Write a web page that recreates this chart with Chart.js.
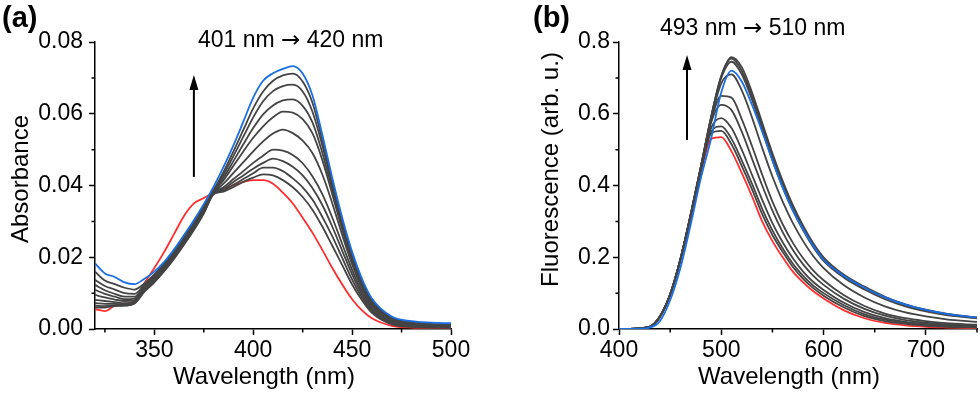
<!DOCTYPE html>
<html>
<head>
<meta charset="utf-8">
<script src="https://cdn.jsdelivr.net/npm/chart.js@4.4.0/dist/chart.umd.min.js"></script>
<style>
html, body { margin: 0; padding: 0; background: #fff; }
#wrap { position: relative; width: 980px; height: 394px; }
canvas { position: absolute; top: 0; }
</style>
</head>
<body>
<div id="wrap">
  <canvas id="chartA" width="490" height="394" style="left:0"></canvas>
  <canvas id="chartB" width="490" height="394" style="left:490px"></canvas>
</div>
<script>
// ---- panel (a): absorbance ----
const absWavelength = [320,325,330,335,340,345,350,355,360,365,370,375,380,385,390,395,400,405,410,415,420,425,430,435,440,445,450,455,460,470,480,490,500];
const absRed   = [.0055,.0050,.0065,.0070,.0080,.0128,.0170,.0215,.0265,.0315,.0350,.0365,.0380,.0390,.0400,.0410,.0415,.0415,.0405,.0380,.0350,.0310,.0268,.0220,.0170,.0124,.0083,.0052,.0030,.0009,.0004,.0003,.0003];
const absGray1 = [.0160,.0135,.0125,.0115,.0110,.0127,.0152,.0183,.0218,.0257,.0298,.0342,.0388,.0438,.0495,.0555,.0615,.0662,.0692,.0707,.0712,.0690,.0630,.0525,.0410,.0300,.0208,.0135,.0082,.0032,.0019,.0014,.0012];
const absGray2 = [.0137,.0120,.0110,.0100,.0098,.0123,.0149,.0180,.0215,.0254,.0295,.0339,.0386,.0430,.0482,.0536,.0590,.0635,.0663,.0677,.0681,.0662,.0605,.0510,.0400,.0293,.0202,.0130,.0078,.0030,.0017,.0012,.0010];
const absGray3 = [.0123,.0108,.0098,.0090,.0090,.0120,.0146,.0177,.0212,.0251,.0292,.0336,.0384,.0422,.0468,.0515,.0560,.0598,.0623,.0637,.0640,.0622,.0575,.0490,.0388,.0285,.0196,.0125,.0074,.0027,.0015,.0010,.0009];
const absGray4 = [.0109,.0098,.0090,.0083,.0085,.0117,.0143,.0174,.0209,.0248,.0289,.0333,.0382,.0415,.0455,.0495,.0533,.0565,.0590,.0606,.0603,.0585,.0545,.0470,.0375,.0277,.0190,.0120,.0070,.0025,.0013,.0009,.0008];
const absGray5 = [.0095,.0088,.0082,.0078,.0080,.0114,.0140,.0171,.0206,.0245,.0286,.0330,.0380,.0405,.0435,.0465,.0495,.0523,.0545,.0556,.0546,.0525,.0490,.0430,.0350,.0262,.0180,.0113,.0065,.0022,.0011,.0008,.0007];
const absGray6 = [.0081,.0078,.0075,.0072,.0076,.0111,.0137,.0168,.0203,.0242,.0283,.0328,.0379,.0395,.0418,.0440,.0463,.0483,.0500,.0497,.0485,.0462,.0425,.0375,.0310,.0237,.0165,.0104,.0060,.0019,.0010,.0007,.0006];
const absGray7 = [.0072,.0070,.0070,.0068,.0074,.0108,.0134,.0165,.0200,.0239,.0280,.0326,.0378,.0390,.0410,.0428,.0447,.0463,.0475,.0468,.0452,.0428,.0392,.0345,.0285,.0218,.0152,.0096,.0055,.0017,.0008,.0006,.0005];
const absGray8 = [.0065,.0064,.0066,.0066,.0072,.0106,.0132,.0163,.0198,.0237,.0278,.0324,.0377,.0386,.0402,.0418,.0434,.0450,.0450,.0440,.0420,.0395,.0360,.0312,.0258,.0198,.0138,.0088,.0050,.0015,.0007,.0005,.0004];
const absGray9 = [.0060,.0060,.0064,.0065,.0071,.0104,.0130,.0161,.0196,.0235,.0276,.0322,.0376,.0383,.0396,.0410,.0422,.0431,.0428,.0415,.0395,.0368,.0332,.0285,.0232,.0178,.0124,.0080,.0045,.0013,.0006,.0004,.0004];
const absBlue  = [.0183,.0155,.0145,.0130,.0125,.0140,.0160,.0187,.0222,.0262,.0303,.0348,.0397,.0452,.0512,.0578,.0645,.0692,.0713,.0725,.0733,.0712,.0650,.0540,.0420,.0310,.0215,.0140,.0085,.0035,.0022,.0018,.0016];

// ---- panel (b): fluorescence ----
const flWavelength = [400,420,430,440,450,460,470,480,490,500,510,520,530,540,550,560,570,580,590,600,620,640,660,680,700,720,750];
const flRed   = [0,.002,.006,.035,.095,.190,.310,.435,.530,.535,.495,.435,.370,.300,.245,.200,.160,.130,.105,.085,.052,.030,.017,.010,.006,.004,.002];
const flGray1 = [0,.002,.006,.035,.096,.192,.312,.440,.545,.552,.515,.455,.390,.320,.262,.215,.173,.140,.114,.093,.060,.036,.022,.014,.009,.006,.004];
const flGray2 = [0,.002,.006,.035,.096,.192,.313,.442,.550,.565,.530,.470,.405,.335,.275,.225,.182,.148,.121,.100,.066,.041,.026,.017,.011,.008,.005];
const flGray3 = [0,.002,.006,.035,.096,.193,.314,.445,.560,.588,.560,.500,.430,.360,.295,.242,.197,.160,.131,.109,.073,.047,.030,.020,.014,.010,.007];
const flGray4 = [0,.002,.006,.035,.097,.194,.316,.448,.575,.625,.610,.550,.475,.400,.330,.270,.220,.180,.148,.123,.084,.056,.037,.025,.018,.013,.009];
const flGray5 = [0,.002,.006,.035,.097,.195,.317,.450,.580,.650,.645,.585,.510,.430,.355,.292,.240,.197,.163,.136,.094,.064,.043,.030,.022,.016,.012];
const flGray6 = [0,.002,.006,.034,.096,.194,.317,.450,.585,.685,.710,.665,.590,.505,.425,.355,.295,.245,.203,.170,.122,.088,.063,.046,.035,.027,.020];
const flGray7 = [0,.002,.006,.034,.096,.194,.318,.452,.590,.700,.745,.710,.640,.555,.470,.395,.330,.275,.228,.190,.143,.110,.083,.063,.049,.039,.030];
const flGray8 = [0,.002,.006,.034,.096,.194,.318,.452,.590,.705,.754,.720,.650,.565,.480,.405,.338,.282,.234,.195,.148,.115,.088,.067,.052,.041,.031];
const flGray9 = [0,.002,.006,.034,.096,.194,.318,.452,.590,.705,.758,.730,.660,.575,.490,.413,.345,.288,.239,.200,.151,.118,.090,.069,.054,.043,.032];
const flBlue  = [0,.001,.004,.022,.080,.170,.290,.420,.530,.660,.720,.690,.625,.550,.470,.395,.330,.278,.232,.193,.148,.115,.088,.068,.053,.042,.032];

const RED = '#ff2d2d', BLUE = '#1a6fe4', GRAY = '#444444';
const FONT = "'Liberation Sans', Arial, sans-serif";
const ARROW_FONT = "'DejaVu Sans', sans-serif";

function pts(xs, ys) {
  return xs.map((x, i) => ({ x: x, y: ys[i] }));
}
function line(xs, ys, color) {
  return {
    data: pts(xs, ys), borderColor: color, borderWidth: 1.8,
    pointRadius: 0, fill: false, cubicInterpolationMode: 'monotone'
  };
}

// minor ticks, arrow and free text
const extras = {
  id: 'extras',
  afterDraw(chart, args, opts) {
    const ctx = chart.ctx;
    const xs = chart.scales.x, ys = chart.scales.y;
    ctx.save();
    ctx.strokeStyle = '#000';
    ctx.lineWidth = 1.5;
    ctx.beginPath();
    opts.minorX.forEach(v => {
      const p = xs.getPixelForValue(v);
      ctx.moveTo(p, xs.top); ctx.lineTo(p, xs.top + 3.5);
    });
    opts.minorY.forEach(v => {
      const p = ys.getPixelForValue(v);
      ctx.moveTo(ys.right, p); ctx.lineTo(ys.right - 3.5, p);
    });
    ctx.stroke();

    const ax = xs.getPixelForValue(opts.arrow.x);
    const y0 = ys.getPixelForValue(opts.arrow.from);
    const y1 = ys.getPixelForValue(opts.arrow.to);
    ctx.lineWidth = 2;
    ctx.beginPath(); ctx.moveTo(ax, y0); ctx.lineTo(ax, y1 + 10); ctx.stroke();
    ctx.fillStyle = '#000';
    ctx.beginPath();
    ctx.moveTo(ax, y1); ctx.lineTo(ax - 4.5, y1 + 15); ctx.lineTo(ax + 4.5, y1 + 15);
    ctx.closePath(); ctx.fill();

    ctx.textBaseline = 'alphabetic';
    opts.texts.forEach(t => {
      ctx.save();
      ctx.font = t.font;
      ctx.textAlign = t.align || 'left';
      ctx.translate(t.x, t.y);
      if (t.rot) ctx.rotate(-Math.PI / 2);
      ctx.fillText(t.text, 0, 0);
      ctx.restore();
    });

    // shift label: "from nm → to nm", the arrow from a font with a longer glyph
    const s = opts.shift;
    ctx.textAlign = 'left';
    let x = s.x;
    [[s.from + ' nm ', s.size + 'px ' + FONT],
     ['\u2192', s.size + 'px ' + ARROW_FONT],
     [' ' + s.to + ' nm', s.size + 'px ' + FONT]].forEach(p => {
      ctx.font = p[1];
      ctx.fillText(p[0], x, s.y);
      x += ctx.measureText(p[0]).width;
    });
    ctx.restore();
  }
};

function axis(min, max, step, digits, fitWidth, fitHeight, pad) {
  return {
    type: 'linear', min: min, max: max,
    border: { color: '#000', width: 1.5 },
    grid: { drawOnChartArea: false, drawTicks: true, tickLength: 6, tickColor: '#000', tickWidth: 1.5 },
    ticks: {
      stepSize: step, includeBounds: false, color: '#000', padding: pad,
      font: { family: FONT, size: 23 },
      callback: v => v.toFixed(digits)
    },
    afterFit: s => {
      if (fitWidth) s.width = fitWidth;
      if (fitHeight) s.height = fitHeight;
    }
  };
}

function makeChart(id, datasets, xAx, yAx, padRight, extraOpts) {
  return new Chart(document.getElementById(id), {
    type: 'line',
    data: { datasets: datasets },
    options: {
      responsive: false, animation: false, devicePixelRatio: 1,
      layout: { padding: { left: 0, top: 42, right: padRight, bottom: 0 } },
      scales: { x: xAx, y: yAx },
      plugins: { legend: { display: false }, tooltip: { enabled: false }, extras: extraOpts }
    },
    plugins: [extras]
  });
}

makeChart('chartA', [
    line(absWavelength, absBlue, BLUE),
    line(absWavelength, absGray1, GRAY),
    line(absWavelength, absGray2, GRAY),
    line(absWavelength, absGray3, GRAY),
    line(absWavelength, absGray4, GRAY),
    line(absWavelength, absGray5, GRAY),
    line(absWavelength, absGray6, GRAY),
    line(absWavelength, absGray7, GRAY),
    line(absWavelength, absGray8, GRAY),
    line(absWavelength, absGray9, GRAY),
    line(absWavelength, absRed, RED)
  ],
  axis(320, 500, 50, 0, 0, 65, 2),
  axis(0, 0.08, 0.02, 2, 95, 0, 6),
  39,
  {
    minorX: [325, 375, 425, 475],
    minorY: [0.01, 0.03, 0.05, 0.07],
    arrow: { x: 370, from: 0.0424, to: 0.0708 },
    shift: { from: 401, to: 420, x: 198, y: 46.5, size: 23 },
    texts: [
      { text: '(a)', x: 2, y: 27, font: 'bold 29px ' + FONT },
      { text: 'Wavelength (nm)', x: 264, y: 384, align: 'center', font: '24px ' + FONT },
      { text: 'Absorbance', x: 28, y: 179, align: 'center', rot: true, font: '24px ' + FONT }
    ]
  });

makeChart('chartB', [
    line(flWavelength, flBlue, BLUE),
    line(flWavelength, flGray9, GRAY),
    line(flWavelength, flGray8, GRAY),
    line(flWavelength, flGray7, GRAY),
    line(flWavelength, flGray6, GRAY),
    line(flWavelength, flGray5, GRAY),
    line(flWavelength, flGray4, GRAY),
    line(flWavelength, flGray3, GRAY),
    line(flWavelength, flGray2, GRAY),
    line(flWavelength, flGray1, GRAY),
    line(flWavelength, flRed, RED)
  ],
  axis(400, 750, 100, 0, 0, 65, 2),
  axis(0, 0.8, 0.2, 1, 129, 0, 3),
  3,
  {
    minorX: [450, 550, 650, 750],
    minorY: [0.1, 0.3, 0.5, 0.7],
    arrow: { x: 466.5, from: 0.527, to: 0.764 },
    shift: { from: 493, to: 510, x: 170, y: 35, size: 23 },
    texts: [
      { text: '(b)', x: 43, y: 27, font: 'bold 29px ' + FONT },
      { text: 'Wavelength (nm)', x: 299, y: 384, align: 'center', font: '24px ' + FONT },
      { text: 'Fluorescence (arb. u.)', x: 68, y: 169.5, align: 'center', rot: true, font: '24px ' + FONT }
    ]
  });
</script>
</body>
</html>
